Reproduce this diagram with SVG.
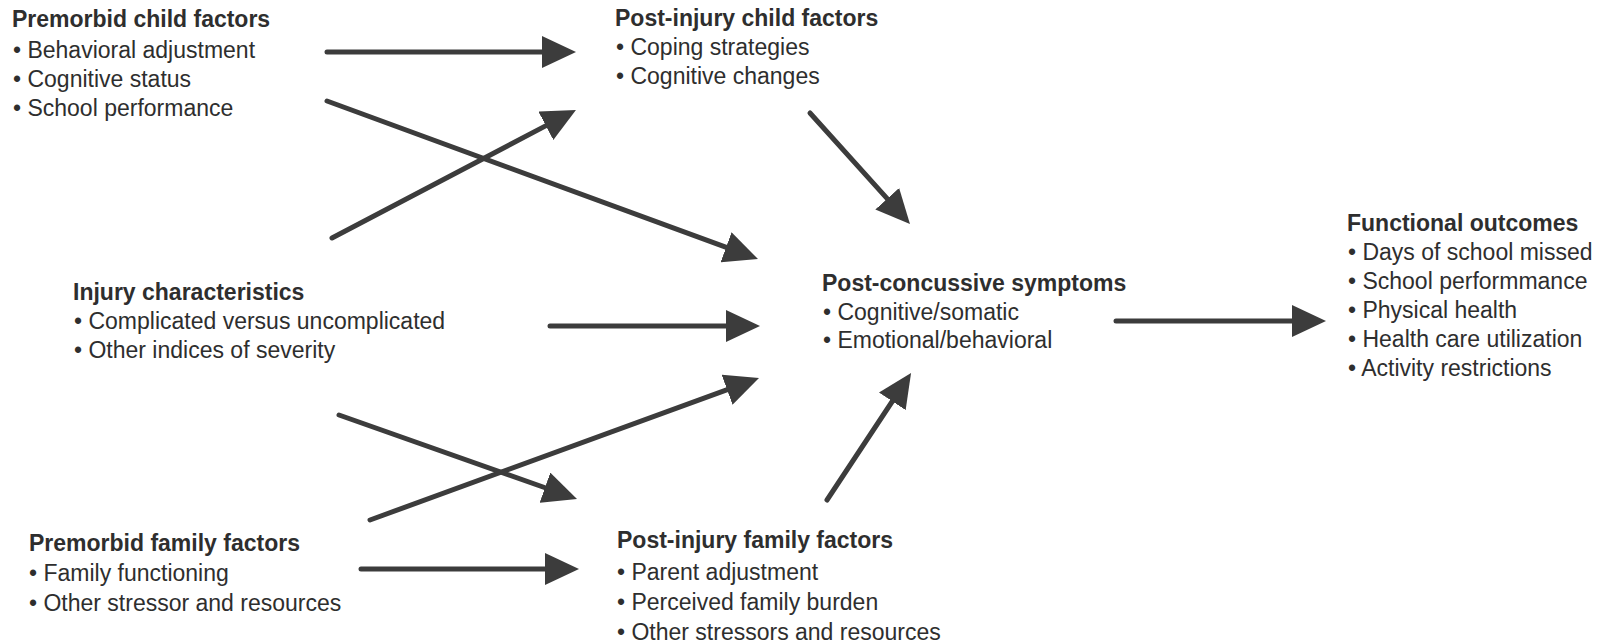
<svg xmlns="http://www.w3.org/2000/svg" width="1611" height="644" viewBox="0 0 1611 644">
<style>
text{font-family:"Liberation Sans",Arial,Helvetica,sans-serif;font-size:23px;fill:#2e2e2e}
.t{font-weight:bold}
.c{stroke:#3c3c3c;stroke-width:5;fill:none;stroke-linecap:round}
</style>
<defs>
<marker id="ah" markerUnits="userSpaceOnUse" markerWidth="34" markerHeight="32" viewBox="0 0 34 32" refX="4" refY="16" orient="auto">
<path d="M0,0 L34,16 L0,32 Z" fill="#3c3c3c"/>
</marker>
</defs>
<rect width="1611" height="644" fill="#ffffff"/>
<g id="connectors">
<line class="c" x1="327" y1="52" x2="546" y2="52" marker-end="url(#ah)"/>
<line class="c" x1="327" y1="101" x2="729.8" y2="248.7" marker-end="url(#ah)"/>
<line class="c" x1="332" y1="238" x2="549.4" y2="123.9" marker-end="url(#ah)"/>
<line class="c" x1="810" y1="113" x2="889.9" y2="201.7" marker-end="url(#ah)"/>
<line class="c" x1="550" y1="326" x2="730" y2="326" marker-end="url(#ah)"/>
<line class="c" x1="339" y1="415" x2="548.7" y2="489" marker-end="url(#ah)"/>
<line class="c" x1="370" y1="520" x2="730.8" y2="388.3" marker-end="url(#ah)"/>
<line class="c" x1="827" y1="500" x2="894.5" y2="398" marker-end="url(#ah)"/>
<line class="c" x1="361" y1="569" x2="549" y2="569" marker-end="url(#ah)"/>
<line class="c" x1="1116" y1="321" x2="1296" y2="321" marker-end="url(#ah)"/>
</g>
<g id="premorbid-child">
<text class="t" x="12" y="27">Premorbid child factors</text>
<text x="13" y="58">• Behavioral adjustment</text>
<text x="13" y="87">• Cognitive status</text>
<text x="13" y="116">• School performance</text>
</g>
<g id="post-injury-child">
<text class="t" x="615" y="26">Post-injury child factors</text>
<text x="616" y="55">• Coping strategies</text>
<text x="616" y="84">• Cognitive changes</text>
</g>
<g id="injury">
<text class="t" x="73" y="300">Injury characteristics</text>
<text x="74" y="329">• Complicated versus uncomplicated</text>
<text x="74" y="358">• Other indices of severity</text>
</g>
<g id="post-concussive">
<text class="t" x="822" y="291">Post-concussive symptoms</text>
<text x="823" y="320">• Cognitive/somatic</text>
<text x="823" y="348">• Emotional/behavioral</text>
</g>
<g id="functional">
<text class="t" x="1347" y="231">Functional outcomes</text>
<text x="1348" y="260">• Days of school missed</text>
<text x="1348" y="289">• School performmance</text>
<text x="1348" y="318">• Physical health</text>
<text x="1348" y="347">• Health care utilization</text>
<text x="1348" y="376">• Activity restrictions</text>
</g>
<g id="premorbid-family">
<text class="t" x="29" y="551">Premorbid family factors</text>
<text x="29" y="581">• Family functioning</text>
<text x="29" y="611">• Other stressor and resources</text>
</g>
<g id="post-injury-family">
<text class="t" x="617" y="548">Post-injury family factors</text>
<text x="617" y="580">• Parent adjustment</text>
<text x="617" y="610">• Perceived family burden</text>
<text x="617" y="640">• Other stressors and resources</text>
</g>
</svg>
